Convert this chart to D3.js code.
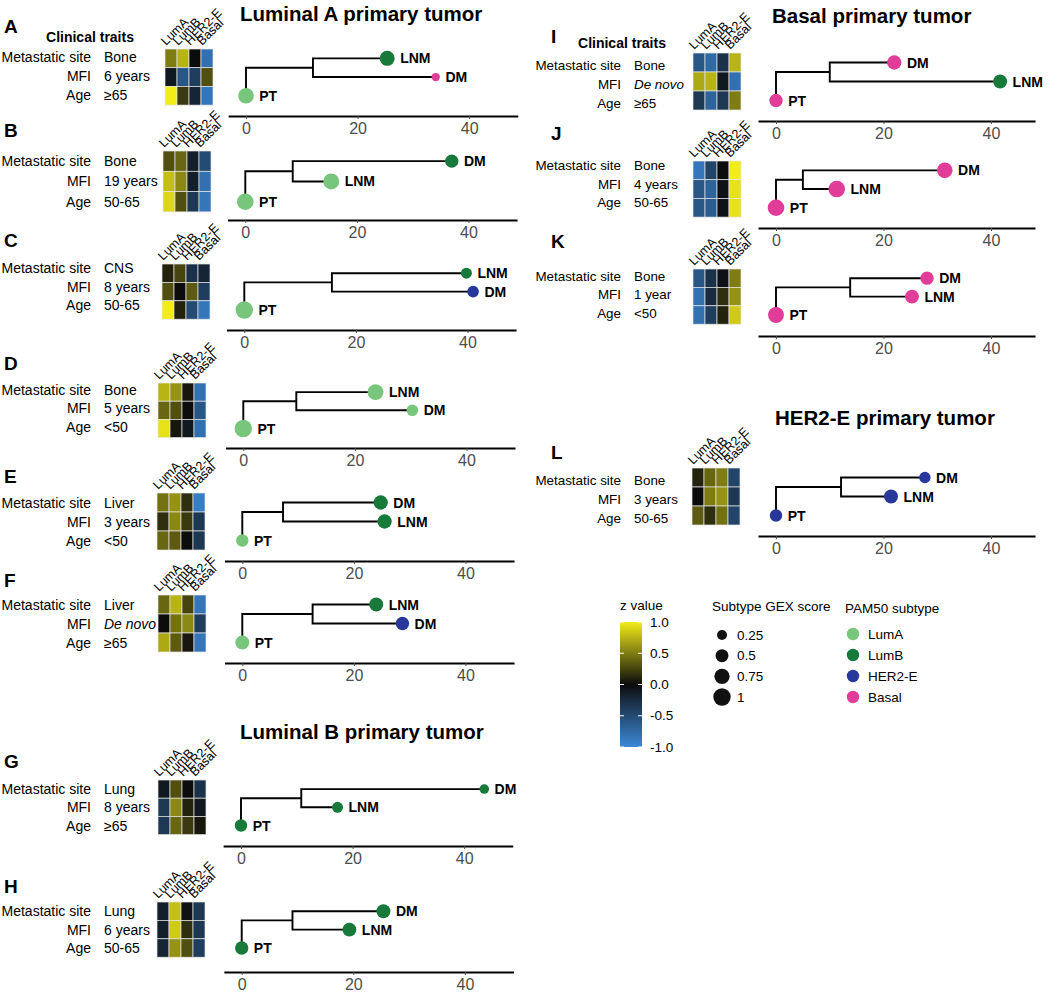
<!DOCTYPE html>
<html>
<head>
<meta charset="utf-8">
<script src="https://cdn.jsdelivr.net/npm/d3@7"></script>
<style>
    body { margin: 0; background: #fff; }
    svg text { font-family: "Liberation Sans", Arial, Helvetica, sans-serif; }
</style>
</head>
<body>
<svg id="chart" width="1059" height="993"></svg>
<script>

//---------------------------------------------------------------
// data
var panelIds = ["A", "B", "C", "D", "E", "F", "G", "H", "I", "J", "K", "L"];
var subtypeNames = ["LumA", "LumB", "HER2-E", "Basal"];
var traitNames = ["Metastatic site", "MFI", "Age"];

var metSite = ["Bone", "Bone", "CNS", "Bone", "Liver", "Liver", "Lung", "Lung", "Bone", "Bone", "Bone", "Bone"];
var mfiText = ["6 years", "19 years", "8 years", "5 years", "3 years", "De novo", "8 years", "6 years", "De novo", "4 years", "1 year", "3 years"];
var ageGroup = ["\u226565", "50-65", "50-65", "<50", "<50", "\u226565", "\u226565", "50-65", "\u226565", "50-65", "<50", "50-65"];

// z values, 3 rows x (LumA, LumB, HER2-E, Basal)
var zRows = [
    [[0.5, 0.75, 0.0, -0.8], [-0.1, -0.6, -0.4, 0.3], [1.0, 0.2, -0.2, -0.85]],
    [[0.3, 0.4, -0.15, -0.5], [0.8, 0.55, -0.15, -0.8], [0.9, 0.3, -0.35, -0.85]],
    [[0.1, 0.25, -0.3, -0.2], [0.3, 0.0, 0.35, -0.4], [1.0, 0.1, -0.5, -0.85]],
    [[0.75, 0.6, 0.05, -0.8], [0.4, 0.3, 0.0, -0.6], [0.95, 0.05, -0.1, -0.8]],
    [[0.45, 0.6, 0.15, -0.9], [0.15, 0.55, 0.2, -0.35], [0.4, 0.35, 0.0, -0.35]],
    [[0.4, 0.75, 0.25, -0.85], [0.0, 0.45, 0.55, -0.4], [0.7, 0.35, 0.05, -0.85]],
    [[-0.1, 0.3, 0.0, -0.3], [-0.35, 0.55, 0.1, -0.1], [-0.35, 0.4, 0.2, 0.05]],
    [[-0.15, 0.8, -0.05, -0.35], [-0.15, 0.85, 0.15, -0.35], [-0.2, 0.6, 0.3, -0.4]],
    [[-0.6, -0.75, -0.3, 0.75], [0.7, 0.75, -0.1, -0.8], [-0.35, -0.7, -0.35, 0.5]],
    [[-0.85, -0.45, 0.0, 1.0], [-0.6, -0.7, -0.05, 0.95], [-0.6, -0.65, -0.05, 0.95]],
    [[-0.6, -0.3, -0.05, 0.5], [-0.8, -0.25, 0.15, 0.6], [-0.8, -0.4, 0.1, 0.85]],
    [[0.1, 0.4, 0.5, -0.45], [0.0, 0.5, 0.6, -0.35], [0.35, 0.15, 0.45, -0.45]]
];

// tip order top to bottom
var tipOrder = [
    ["LNM", "DM", "PT"], ["DM", "LNM", "PT"], ["LNM", "DM", "PT"], ["LNM", "DM", "PT"],
    ["DM", "LNM", "PT"], ["LNM", "DM", "PT"], ["DM", "LNM", "PT"], ["DM", "LNM", "PT"],
    ["DM", "LNM", "PT"], ["DM", "LNM", "PT"], ["DM", "LNM", "PT"], ["DM", "LNM", "PT"]
];

// branch distances from the PT root
var nodeDist = [12.0, 8.5, 15.7, 9.5, 7.3, 12.6, 10.8, 9.1, 10.0, 5.0, 13.8, 12.1];
var lnmDist = [25.3, 15.4, 39.8, 23.7, 25.5, 24.0, 17.3, 19.3, 41.7, 11.3, 25.3, 21.4];
var dmDist = [34.0, 37.0, 41.0, 30.3, 24.8, 28.7, 43.6, 25.4, 22.0, 31.4, 28.1, 27.7];

// PAM50 subtype of each sample
var ptType = ["LumA", "LumA", "LumA", "LumA", "LumA", "LumA", "LumB", "LumB", "Basal", "Basal", "Basal", "HER2-E"];
var lnmType = ["LumB", "LumA", "LumB", "LumA", "LumB", "LumB", "LumB", "LumB", "LumB", "Basal", "Basal", "HER2-E"];
var dmType = ["Basal", "LumB", "HER2-E", "LumA", "LumB", "HER2-E", "LumB", "LumB", "Basal", "Basal", "Basal", "HER2-E"];

// subtype GEX score of each sample
var ptScore = [0.78, 0.9, 1.0, 1.0, 0.45, 0.6, 0.45, 0.54, 0.54, 0.9, 0.82, 0.45];
var lnmScore = [0.71, 0.82, 0.33, 0.82, 0.64, 0.6, 0.33, 0.6, 0.6, 0.9, 0.6, 0.6];
var dmScore = [0.14, 0.54, 0.38, 0.38, 0.64, 0.54, 0.22, 0.6, 0.64, 0.78, 0.54, 0.36];

var groupTitles = ["Luminal A primary tumor", "Luminal B primary tumor", "Basal primary tumor", "HER2-E primary tumor"];
var axisTicks = [0, 20, 40];
var zTicks = [1.0, 0.5, 0.0, -0.5, -1.0];
var gexTicks = [0.25, 0.5, 0.75, 1];

//---------------------------------------------------------------
// layout
var gColumns = {
    left : { letterX : 4, labelX : 91, valueX : 104, traitsX : 90, traitsY : 42, fontSize : 14, pxPerUnit : 5.58, axisMin : -3.2, axisMax : 48.7 },
    right : { letterX : 551, labelX : 621, valueX : 634, traitsX : 622, traitsY : 48, fontSize : 13.4, pxPerUnit : 5.375, axisMin : -3.35, axisMax : 48.2 }
};

var gPanels = [
    { col : "left", letterY : 33, heatX : 165, heatTop : 49, rowH : 18.7, axisY : 116, x0 : 246, textDy : -1, traits : true },
    { col : "left", letterY : 137, heatX : 163, heatTop : 151, rowH : 20.3, axisY : 220, x0 : 245.3, textDy : 0 },
    { col : "left", letterY : 247, heatX : 162, heatTop : 264, rowH : 18.4, axisY : 330, x0 : 244.3, textDy : -5 },
    { col : "left", letterY : 370, heatX : 158, heatTop : 383, rowH : 18.2, axisY : 448, x0 : 243.3, textDy : -2 },
    { col : "left", letterY : 483, heatX : 157, heatTop : 493, rowH : 19, axisY : 561, x0 : 242.3, textDy : 0 },
    { col : "left", letterY : 587, heatX : 158, heatTop : 595, rowH : 19, axisY : 663, x0 : 242.3, textDy : 0 },
    { col : "left", letterY : 768, heatX : 158, heatTop : 780, rowH : 18.2, axisY : 846, x0 : 241, textDy : 0 },
    { col : "left", letterY : 893, heatX : 157, heatTop : 902, rowH : 18.4, axisY : 972, x0 : 241.7, textDy : 0 },
    { col : "right", letterY : 43, heatX : 693, heatTop : 53, rowH : 19, axisY : 121, x0 : 776, textDy : 3, traits : true },
    { col : "right", letterY : 140, heatX : 693, heatTop : 161, rowH : 18.7, axisY : 228, x0 : 776, textDy : -5 },
    { col : "right", letterY : 248, heatX : 693, heatTop : 269, rowH : 18.4, axisY : 336, x0 : 776, textDy : -2 },
    { col : "right", letterY : 459, heatX : 692, heatTop : 468, rowH : 19, axisY : 536, x0 : 776, textDy : 3 }
];

var gTitlePos = [{ x : 240, y : 21 }, { x : 240, y : 739 }, { x : 772, y : 23 }, { x : 775, y : 425 }];

var gHeatW = 48;

//---------------------------------------------------------------
var svg = d3.select("#chart");

var zColor = d3.scaleLinear()
    .domain([-1, 0, 1])
    .range(["#3b89d8", "#0c0c0c", "#f2ec19"])
    .clamp(true);

var subtypeColor = d3.scaleOrdinal()
    .domain(subtypeNames)
    .range(["#78c67b", "#17793a", "#27379a", "#e03c98"]);

var gexSize = d3.scaleRadial()
    .domain([0, 1])
    .range([2.8, 8.7]);

//---------------------------------------------------------------
function drawPanel(i){
    var p = gPanels[i],
        c = gColumns[p.col],
        g = svg.append("g").attr("class", "panel-" + panelIds[i]);

    // panel letter
    g.append("text")
        .attr("x", c.letterX).attr("y", p.letterY)
        .style("font-size", "19px").style("font-weight", "bold")
        .text(panelIds[i]);

    if(p.traits){
        g.append("text")
            .attr("x", c.traitsX).attr("y", c.traitsY)
            .attr("text-anchor", "middle")
            .style("font-size", "14px").style("font-weight", "bold")
            .text("Clinical traits");
    }

    // heatmap
    var hx = d3.scaleBand().domain(subtypeNames).range([p.heatX, p.heatX + gHeatW]),
        hy = d3.scaleBand().domain(traitNames).range([p.heatTop, p.heatTop + 3 * p.rowH]);

    var cells = [];
    zRows[i].forEach(function(row, r){
        row.forEach(function(v, k){
            cells.push({ trait : traitNames[r], subtype : subtypeNames[k], z : v });
        });
    });

    g.selectAll("rect.cell").data(cells).enter().append("rect")
        .attr("class", "cell")
        .attr("x", function(d){ return hx(d.subtype); })
        .attr("y", function(d){ return hy(d.trait); })
        .attr("width", hx.bandwidth())
        .attr("height", hy.bandwidth())
        .attr("fill", function(d){ return zColor(d.z); })
        .attr("stroke", "#e6e6e6")
        .attr("stroke-width", 0.7);

    g.selectAll("text.col-lab").data(subtypeNames).enter().append("text")
        .attr("class", "col-lab")
        .attr("transform", function(d){
            return "translate(" + (hx(d) + hx.bandwidth() / 2 - 5) + "," + (p.heatTop - 3) + ") rotate(-45)";
        })
        .style("font-size", "12.5px")
        .text(function(d){ return d; });

    // clinical trait rows
    var traitVals = [metSite[i], mfiText[i], ageGroup[i]];
    traitNames.forEach(function(t, r){
        var ty = hy(t) + hy.bandwidth() / 2 + p.textDy;
        g.append("text")
            .attr("x", c.labelX).attr("y", ty)
            .attr("text-anchor", "end").attr("dominant-baseline", "central")
            .style("font-size", c.fontSize + "px")
            .text(t);
        g.append("text")
            .attr("x", c.valueX).attr("y", ty)
            .attr("dominant-baseline", "central")
            .style("font-size", c.fontSize + "px")
            .style("font-style", traitVals[r] == "De novo" ? "italic" : "normal")
            .text(traitVals[r]);
    });

    // tree
    var tx = d3.scaleLinear()
            .domain([c.axisMin, c.axisMax])
            .range([p.x0 + c.axisMin * c.pxPerUnit, p.x0 + c.axisMax * c.pxPerUnit]),
        ty = d3.scalePoint()
            .domain(tipOrder[i])
            .range([p.heatTop + p.rowH / 2, p.heatTop + 2.5 * p.rowH]);

    var tips = [
        { name : "PT", dist : 0, type : ptType[i], score : ptScore[i] },
        { name : "LNM", dist : lnmDist[i], type : lnmType[i], score : lnmScore[i] },
        { name : "DM", dist : dmDist[i], type : dmType[i], score : dmScore[i] }
    ];

    var yL = ty("LNM"), yD = ty("DM"), yP = ty("PT"),
        yNode = (yL + yD) / 2,
        xNode = tx(nodeDist[i]);

    var treePath = d3.path();
    treePath.moveTo(tx(0), yP);
    treePath.lineTo(tx(0), yNode);
    treePath.lineTo(xNode, yNode);
    treePath.moveTo(tx(lnmDist[i]), yL);
    treePath.lineTo(xNode, yL);
    treePath.lineTo(xNode, yD);
    treePath.lineTo(tx(dmDist[i]), yD);

    g.append("path")
        .attr("d", treePath.toString())
        .attr("fill", "none")
        .attr("stroke", "#000")
        .attr("stroke-width", 1.9);

    g.selectAll("circle.tip").data(tips).enter().append("circle")
        .attr("class", "tip")
        .attr("cx", function(d){ return tx(d.dist); })
        .attr("cy", function(d){ return ty(d.name); })
        .attr("r", function(d){ return gexSize(d.score); })
        .attr("fill", function(d){ return subtypeColor(d.type); });

    g.selectAll("text.tip-lab").data(tips).enter().append("text")
        .attr("class", "tip-lab")
        .attr("x", function(d){ return tx(d.dist) + gexSize(d.score) + 5.5; })
        .attr("y", function(d){ return ty(d.name); })
        .attr("dominant-baseline", "central")
        .style("font-size", "14px").style("font-weight", "bold")
        .text(function(d){ return d.name; });

    // axis
    var axis = d3.axisBottom(tx).tickValues(axisTicks).tickSize(3).tickSizeOuter(0).tickPadding(4);
    var ag = g.append("g")
        .attr("transform", "translate(0," + p.axisY + ")")
        .call(axis);
    ag.select(".domain").attr("stroke", "#000").attr("stroke-width", 2);
    ag.selectAll(".tick line").attr("stroke", "#4d4d4d").attr("stroke-width", 1);
    ag.selectAll(".tick text")
        .attr("fill", "#4d4d4d")
        .style("font-size", "16px")
        .style("font-family", "\"Liberation Sans\", Arial, sans-serif");
}

//---------------------------------------------------------------
function drawTitles(){
    svg.selectAll("text.group-title").data(groupTitles).enter().append("text")
        .attr("class", "group-title")
        .attr("x", function(d, k){ return gTitlePos[k].x; })
        .attr("y", function(d, k){ return gTitlePos[k].y; })
        .style("font-size", "20.5px").style("font-weight", "bold")
        .text(function(d){ return d; });
}

//---------------------------------------------------------------
function drawLegends(){
    var lg = svg.append("g").attr("class", "legends");

    // z value colour bar
    lg.append("text").attr("x", 620).attr("y", 605)
        .attr("dominant-baseline", "central")
        .style("font-size", "13.5px").text("z value");

    var barY = d3.scaleLinear().domain([1, -1]).range([622, 747]);

    var grad = svg.append("defs").append("linearGradient")
        .attr("id", "zgrad").attr("x1", 0).attr("y1", 1).attr("x2", 0).attr("y2", 0);
    d3.range(-1, 1.01, 0.25).forEach(function(v){
        grad.append("stop")
            .attr("offset", ((v + 1) / 2 * 100) + "%")
            .attr("stop-color", zColor(v));
    });

    lg.append("rect")
        .attr("x", 620).attr("y", barY(1))
        .attr("width", 22).attr("height", barY(-1) - barY(1))
        .attr("fill", "url(#zgrad)");

    zTicks.forEach(function(v){
        lg.append("line").attr("x1", 620).attr("x2", 624)
            .attr("y1", barY(v)).attr("y2", barY(v))
            .attr("stroke", "#fff").attr("stroke-width", 1);
        lg.append("line").attr("x1", 638).attr("x2", 642)
            .attr("y1", barY(v)).attr("y2", barY(v))
            .attr("stroke", "#fff").attr("stroke-width", 1);
        lg.append("text").attr("x", 650).attr("y", barY(v))
            .attr("dominant-baseline", "central")
            .style("font-size", "13.5px")
            .text(d3.format(".1f")(v).replace("\u2212", "-"));
    });

    // GEX score sizes
    lg.append("text").attr("x", 712).attr("y", 606)
        .attr("dominant-baseline", "central")
        .style("font-size", "13.5px").text("Subtype GEX score");

    var sizeY = d3.scalePoint().domain(gexTicks).range([635, 697]);
    lg.selectAll("circle.gex").data(gexTicks).enter().append("circle")
        .attr("class", "gex")
        .attr("cx", 722).attr("cy", function(d){ return sizeY(d); })
        .attr("r", function(d){ return gexSize(d); })
        .attr("fill", "#111");
    lg.selectAll("text.gex-lab").data(gexTicks).enter().append("text")
        .attr("class", "gex-lab")
        .attr("x", 737).attr("y", function(d){ return sizeY(d); })
        .attr("dominant-baseline", "central")
        .style("font-size", "13.5px")
        .text(function(d){ return d; });

    // PAM50 subtype colours
    lg.append("text").attr("x", 845).attr("y", 608)
        .attr("dominant-baseline", "central")
        .style("font-size", "13.5px").text("PAM50 subtype");

    var typeY = d3.scalePoint().domain(subtypeNames).range([634, 697]);
    lg.selectAll("circle.pam").data(subtypeNames).enter().append("circle")
        .attr("class", "pam")
        .attr("cx", 853).attr("cy", function(d){ return typeY(d); })
        .attr("r", 6.2)
        .attr("fill", function(d){ return subtypeColor(d); });
    lg.selectAll("text.pam-lab").data(subtypeNames).enter().append("text")
        .attr("class", "pam-lab")
        .attr("x", 868).attr("y", function(d){ return typeY(d); })
        .attr("dominant-baseline", "central")
        .style("font-size", "13.5px")
        .text(function(d){ return d; });
}

//---------------------------------------------------------------
drawTitles();
panelIds.forEach(function(id, i){ drawPanel(i); });
drawLegends();

</script>
</body>
</html>
